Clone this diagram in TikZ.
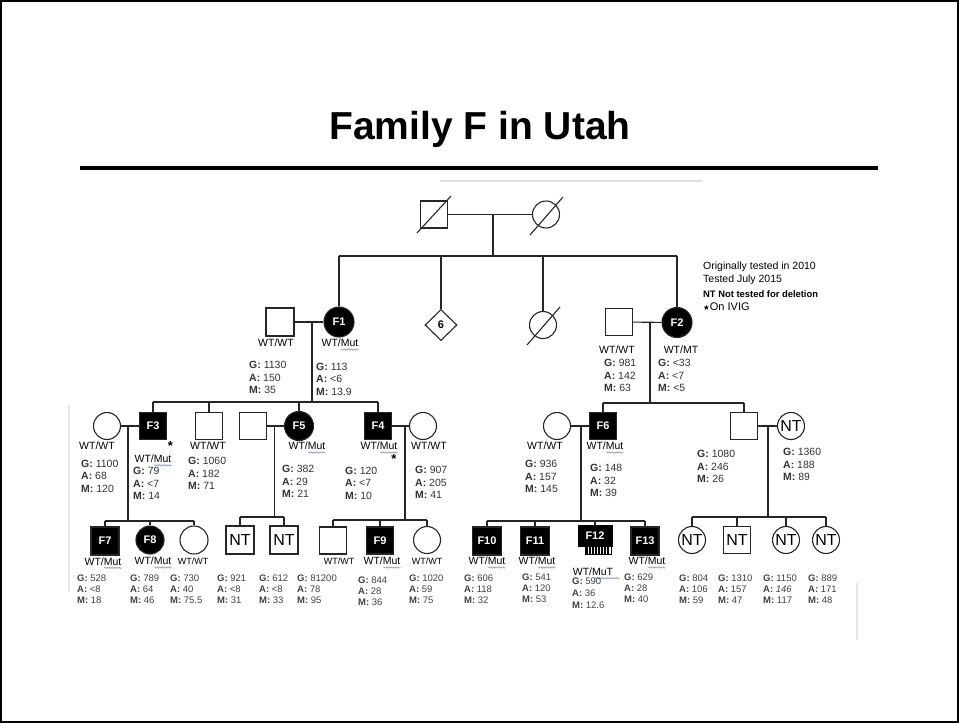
\documentclass[tikz,border=0pt]{standalone}
\usepackage{fontspec}
\setmainfont{Liberation Sans}
\newfontfamily\djv{DejaVu Sans}
\usetikzlibrary{shapes.geometric,calc,decorations.pathmorphing}
\definecolor{wavec}{HTML}{8090A8}
\newcommand\gamvals[3]{\textbf{G:} #1\\\textbf{A:} #2\\\textbf{M:} #3}
\newcommand\wavyul[2]{\draw[wavyline] ($(#1.base east)+(-#2,2.8)$) -- ($(#1.base east)+(0,2.8)$);}
\begin{document}
\begin{tikzpicture}[x=1pt,y=-1pt,
  ln/.style={line width=1.1pt, draw=black!85},
  male/.style={rectangle, draw=black!85, line width=1.1pt, minimum size=27pt, inner sep=0pt},
  female/.style={circle, draw=black!85, line width=1.1pt, minimum size=27pt, inner sep=0pt},
  aff/.style={fill=black, text=white, font=\fontsize{11}{12}\selectfont\bfseries},
  ntx/.style={font=\fontsize{16}{16}\selectfont},
  lbl/.style={anchor=base, inner sep=0pt, font=\fontsize{10.5}{12}\selectfont},
  lbls/.style={anchor=base, inner sep=0pt, font=\fontsize{9}{11}\selectfont},
  val/.style={anchor=north west, inner sep=0pt, align=left, font=\fontsize{10.5}{12.6}\selectfont, text=black!80},
  val4/.style={anchor=north west, inner sep=0pt, align=left, font=\fontsize{9.5}{11}\selectfont, text=black!75},
  starm/.style={inner sep=0pt, font=\bfseries\fontsize{13}{13}\selectfont},
  dead/.style={line width=1.1pt, draw=black!85},
  wavyline/.style={draw=wavec, line width=0.5pt, decorate, decoration={snake, amplitude=0.7pt, segment length=2.4pt}}
]
\useasboundingbox (0,0) rectangle (959,723);
\draw[line width=1.6pt] (0.8,0.8) rectangle (958.2,722.2);

% title
\node[anchor=base, inner sep=0pt, font=\fontsize{39}{46}\selectfont\bfseries] (title) at (480,139) {Family F in Utah};
\draw[line width=4pt] (80,168) -- (878,168);

% faint artifacts
\draw[gray!25, line width=1.5pt] (440,181) -- (702,181);
\draw[gray!20, line width=1.5pt] (69,405) -- (69,592);
\draw[gray!20, line width=1.5pt] (857,583) -- (857,640);

% legend
\node[anchor=base west, inner sep=0pt, font=\fontsize{10.5}{12}\selectfont] (lg1) at (703,269.7) {Originally tested in 2010};
\node[anchor=base west, inner sep=0pt, font=\fontsize{10.5}{12}\selectfont] (lg2) at (703,282.5) {Tested July 2015};
\node[anchor=base west, inner sep=0pt, font=\fontsize{9.4}{11}\selectfont\bfseries] (lg3) at (703,297.5) {NT Not tested for deletion};
\node[anchor=base west, inner sep=0pt, font=\fontsize{11}{12}\selectfont] (lg4) at (703,310) {{\djv\fontsize{7.5}{8}\selectfont ★}On IVIG};

% generation 1
\node[male] (gf) at (434,214.5) {};
\node[female] (gm) at (546,214.5) {};
\draw[ln] (gf) -- (gm);
\draw[dead] ($(gf.center)+(-17,18.5)$) -- ($(gf.center)+(17,-18.5)$);
\draw[dead] ($(gm.center)+(-16,20.5)$) -- ($(gm.center)+(17,-17.5)$);
\coordinate (m0) at (493,214.5);
\coordinate (s0) at (493,256);
\draw[ln] (m0) -- (s0);

% generation 2
\node[female,aff,minimum size=30pt] (F1) at (339,322) {F1};
\node[male,minimum size=28pt] (h1) at (280,322) {};
\node[diamond, draw=black!85, line width=1.1pt, minimum width=32pt, minimum height=31pt, inner sep=0pt, font=\bfseries\fontsize{11}{12}\selectfont] (d6) at (441,325) {6};
\node[female] (dc) at (543,325) {};
\node[female,aff,minimum size=30pt] (F2) at (677,322.5) {F2};
\node[male] (h2) at (619,322) {};
\draw[dead] ($(dc.center)+(-16,20)$) -- ($(dc.center)+(17,-18)$);

\draw[ln] (F1 |- s0) -- (F2 |- s0);
\draw[ln] (F1 |- s0) -- (F1.north);
\draw[ln] (d6 |- s0) -- (d6.north);
\draw[ln] (dc |- s0) -- (dc.north);
\draw[ln] (F2 |- s0) -- (F2.north);

\draw[ln] (h1) -- (F1);
\coordinate (m1) at (312,322);
\coordinate (s1) at (312,402);
\draw[ln] (m1) -- (s1);
\draw[ln] (h2) -- (F2);
\coordinate (m2) at (650,322);
\coordinate (s2c) at (650,403);
\draw[ln] (m2) -- (s2c);

\node[lbl] (lh1) at (276,346.7) {WT/WT};
\node[lbl] (lF1) at (340,346.7) {WT/Mut};
\node[lbl] (lh2) at (617,353.7) {WT/WT};
\node[lbl] (lF2) at (681,353.7) {WT/MT};

\node[val] (vh1) at (249,361.2) {\gamvals{1130}{150}{35}};
\node[val] (vF1) at (316,362.5) {\gamvals{113}{<6}{13.9}};
\node[val] (vh2) at (604,359) {\gamvals{981}{142}{63}};
\node[val] (vF2) at (658,359) {\gamvals{<33}{<7}{<5}};

% generation 3
\node[female] (F3w) at (107,426) {};
\node[male,aff] (F3) at (153,426) {F3};
\node[male] (b1) at (209,426) {};
\node[male] (h5) at (253,426) {};
\node[female,aff,minimum size=29pt] (F5) at (299,426) {F5};
\node[male,aff] (F4) at (378,426) {F4};
\node[female] (F4w) at (423,426) {};
\node[female] (F6w) at (557,426) {};
\node[male,aff] (F6) at (603,426) {F6};
\node[male] (sn) at (744,426) {};
\node[female,ntx] (NTw) at (791,426) {NT};

\draw[ln] (F3 |- s1) -- (F4 |- s1);
\draw[ln] (F3 |- s1) -- (F3.north);
\draw[ln] (b1 |- s1) -- (b1.north);
\draw[ln] (F5 |- s1) -- (F5.north);
\draw[ln] (F4 |- s1) -- (F4.north);
\draw[ln] (F6 |- s2c) -- (sn |- s2c);
\draw[ln] (F6 |- s2c) -- (F6.north);
\draw[ln] (sn |- s2c) -- (sn.north);

\draw[ln] (F3w) -- (F3);
\coordinate (m3) at (128,426); \coordinate (s3) at (128,521);
\draw[ln] (m3) -- (s3);
\draw[ln] (h5) -- (F5);
\coordinate (m5) at (274.5,426); \coordinate (s5) at (274.5,517);
\draw[ln] (m5) -- (s5);
\draw[ln] (F4) -- (F4w);
\coordinate (m4) at (405,426); \coordinate (s4) at (405,520);
\draw[ln] (m4) -- (s4);
\draw[ln] (F6w) -- (F6);
\coordinate (m6) at (581,426); \coordinate (s6) at (581,521);
\draw[ln] (m6) -- (s6);
\draw[ln] (sn) -- (NTw);
\coordinate (m7) at (768,426); \coordinate (s7) at (768,517);
\draw[ln] (m7) -- (s7);

\node[lbl] (lF3w) at (97,449.7) {WT/WT};
\node[lbl] (lF3) at (153,462.5) {WT/Mut};
\node[starm] (st3) at (170.5,446.5) {*};
\node[lbl] (lb1) at (208,449.7) {WT/WT};
\node[lbl] (lF5) at (307,449.7) {WT/Mut};
\node[lbl] (lF4) at (379,449.7) {WT/Mut};
\node[starm] (st4) at (394,459) {*};
\node[lbl] (lF4w) at (429,449.7) {WT/WT};
\node[lbl] (lF6w) at (545,449.7) {WT/WT};
\node[lbl] (lF6) at (605,449.7) {WT/Mut};

\node[val] (vF3w) at (81,459.7) {\gamvals{1100}{68}{120}};
\node[val] (vF3) at (133,467) {\gamvals{79}{<7}{14}};
\node[val] (vb1) at (188,457.2) {\gamvals{1060}{182}{71}};
\node[val] (vF5) at (282,465.2) {\gamvals{382}{29}{21}};
\node[val] (vF4) at (345,466.7) {\gamvals{120}{<7}{10}};
\node[val] (vF4w) at (415,466.2) {\gamvals{907}{205}{41}};
\node[val] (vF6w) at (525,460.2) {\gamvals{936}{157}{145}};
\node[val] (vF6) at (590,464.2) {\gamvals{148}{32}{39}};
\node[val] (vsn) at (697,450.2) {\gamvals{1080}{246}{26}};
\node[val] (vNTw) at (783,448.2) {\gamvals{1360}{188}{89}};

% generation 4
\node[male,aff,minimum size=28pt] (F7) at (105,541) {F7};
\node[female,aff,minimum size=28pt] (F8) at (150,540) {F8};
\node[female,minimum size=28pt] (c1) at (194,540) {};
\node[male,ntx,minimum size=28pt] (nt1) at (240,540) {NT};
\node[male,ntx,minimum size=28pt] (nt2) at (284,540) {NT};
\node[male] (sq9) at (333,540.5) {};
\node[male,aff] (F9) at (380,540.5) {F9};
\node[female] (c9) at (427,540) {};
\node[male,aff,minimum width=29pt,minimum height=28pt] (F10) at (487,541) {F10};
\node[male,aff,minimum width=29pt,minimum height=28pt] (F11) at (535,541) {F11};
\node[rectangle, fill=black, draw=black, text=white, minimum width=34pt, minimum height=21pt, inner sep=0pt, font=\fontsize{11}{12}\selectfont\bfseries] (F12) at (595,535.5) {F12};
\node[male,aff,minimum size=28pt] (F13) at (645,541) {F13};
\node[female,ntx] (ntc1) at (692,540) {NT};
\node[male,ntx] (nts) at (737,540) {NT};
\node[female,ntx] (ntc2) at (786,540) {NT};
\node[female,ntx] (ntc3) at (826,540) {NT};

% F12 comb
\fill[black] ($(F12.south east)+(-27,0)$) rectangle ($(F12.south east)+(0,9)$);
\foreach \i in {0,...,7} {
  \draw[white, line width=1.2pt] ($(F12.south east)+(-24+\i*3.1,1)$) -- ++(0,6.5);
}

\draw[ln] (F7 |- s3) -- (c1 |- s3);
\draw[ln] (F7 |- s3) -- (F7.north);
\draw[ln] (F8 |- s3) -- (F8.north);
\draw[ln] (c1 |- s3) -- (c1.north);
\draw[ln] (nt1 |- s5) -- (nt2 |- s5);
\draw[ln] (nt1 |- s5) -- (nt1.north);
\draw[ln] (nt2 |- s5) -- (nt2.north);
\draw[ln] (sq9 |- s4) -- (c9 |- s4);
\draw[ln] (sq9 |- s4) -- (sq9.north);
\draw[ln] (F9 |- s4) -- (F9.north);
\draw[ln] (c9 |- s4) -- (c9.north);
\draw[ln] (F10 |- s6) -- (F13 |- s6);
\draw[ln] (F10 |- s6) -- (F10.north);
\draw[ln] (F11 |- s6) -- (F11.north);
\draw[ln] (F12 |- s6) -- (F12.north);
\draw[ln] (F13 |- s6) -- (F13.north);
\draw[ln] (ntc1 |- s7) -- (ntc3 |- s7);
\draw[ln] (ntc1 |- s7) -- (ntc1.north);
\draw[ln] (nts |- s7) -- (nts.north);
\draw[ln] (ntc2 |- s7) -- (ntc2.north);
\draw[ln] (ntc3 |- s7) -- (ntc3.north);

\node[lbl] (lF7) at (103,565) {WT/Mut};
\node[lbl] (lF8) at (153,564.7) {WT/Mut};
\node[lbls] (lc1) at (193,564.5) {WT/WT};
\node[lbls] (lsq9) at (339,564.5) {WT/WT};
\node[lbl] (lF9) at (382,564.7) {WT/Mut};
\node[lbls] (lc9) at (427,564.5) {WT/WT};
\node[lbl] (lF10) at (487,564.7) {WT/Mut};
\node[lbl] (lF11) at (537,564.7) {WT/Mut};
\node[lbl] (lF12) at (593,575.4) {WT/MuT};
\node[lbl] (lF13) at (647,564.7) {WT/Mut};

% spell-check wavy underlines
\wavyul{lF1}{17.5}
\wavyul{lF3}{17.5}
\wavyul{lF5}{17.5}
\wavyul{lF4}{17.5}
\wavyul{lF6}{17.5}
\wavyul{lF7}{17.5}
\wavyul{lF8}{17.5}
\wavyul{lF9}{17.5}
\wavyul{lF10}{17.5}
\wavyul{lF11}{17.5}
\wavyul{lF13}{17.5}
\draw[wavyline] ($(lF12.base east)+(-19,2.8)$) -- ($(lF12.base east)+(6,2.8)$);

\node[val4] (vF7) at (77,574.6) {\gamvals{528}{<8}{18}};
\node[val4] (vF8) at (130,574.6) {\gamvals{789}{64}{46}};
\node[val4] (vc1) at (170,574.6) {\gamvals{730}{40}{75.5}};
\node[val4] (vnt1) at (217,574.6) {\gamvals{921}{<8}{31}};
\node[val4] (vnt2) at (259,574.6) {\gamvals{612}{<8}{33}};
\node[val4] (vsq9) at (297,574.6) {\gamvals{81200}{78}{95}};
\node[val4] (vF9) at (358,576.6) {\gamvals{844}{28}{36}};
\node[val4] (vc9) at (409,574.6) {\gamvals{1020}{59}{75}};
\node[val4] (vF10) at (464,574.6) {\gamvals{606}{118}{32}};
\node[val4] (vF11) at (522,574) {\gamvals{541}{120}{53}};
\node[val4, font=\fontsize{9.5}{12}\selectfont] (vF12) at (572,577.6) {\gamvals{590}{36}{12.6}};
\node[val4] (vF13) at (624,574) {\gamvals{629}{28}{40}};
\node[val4] (vntc1) at (679,575) {\gamvals{804}{106}{59}};
\node[val4] (vnts) at (718,575) {\gamvals{1310}{157}{47}};
\node[val4] (vntc2) at (763,575) {\gamvals{1150}{\textit{146}}{117}};
\node[val4] (vntc3) at (808,575) {\gamvals{889}{171}{48}};
\end{tikzpicture}
\end{document}
